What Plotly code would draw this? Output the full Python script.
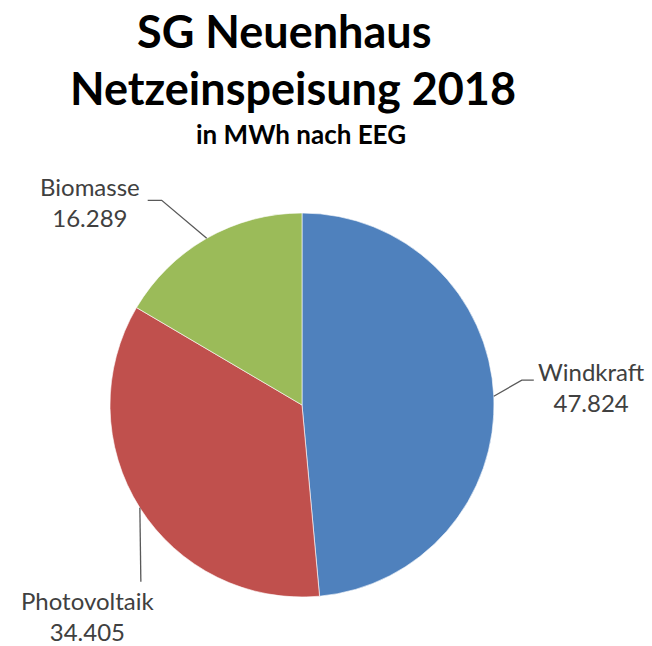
import math
import plotly.graph_objects as go

labels = ["Windkraft", "Photovoltaik", "Biomasse"]
values = [47.824, 34.405, 16.289]
value_text = ["47.824", "34.405", "16.289"]
colors = ["#4F81BD", "#C0504D", "#9BBB59"]

W, H = 652, 646
CX, CY, R = 302, 405, 192  # pie centre / radius in pixels


def px(x):
    return x / W


def py(y):
    return 1 - y / H


fig = go.Figure(go.Pie(
    labels=labels,
    values=values,
    sort=False,
    direction="clockwise",
    rotation=0,
    marker=dict(colors=colors, line=dict(color="white", width=0.6)),
    textinfo="none",
    hoverinfo="label+value",
    showlegend=False,
    domain=dict(x=[px(CX - R), px(CX + R)], y=[py(CY + R), py(CY - R)]),
))

# leader line styling per slice: (elbow dx, elbow dy, end dx, end dy, text x, text y, xanchor)
leader = {
    "Windkraft": (28, -16, 40, -16, 536, 387, "left"),
    "Photovoltaik": (1, 74, 1, 74, 88, 616, "center"),
    "Biomasse": (-45, -38, -59, -38, 90, 202, "center"),
}

total = sum(values)
cum = 0.0
shapes = []
annotations = []
for lab, v, t in zip(labels, values, value_text):
    mid = (cum + v / 2) / total * 2 * math.pi
    cum += v
    ex = CX + R * math.sin(mid)
    ey = CY - R * math.cos(mid)
    edx, edy, ndx, ndy, tx, ty, xa = leader[lab]
    path = f"M {px(ex)},{py(ey)} L {px(ex + edx)},{py(ey + edy)} L {px(ex + ndx)},{py(ey + ndy)}"
    shapes.append(dict(type="path", xref="paper", yref="paper", path=path,
                       line=dict(color="#595959", width=1.3)))
    annotations.append(dict(
        text=f"{lab}<br>{t}", x=px(tx), y=py(ty), xref="paper", yref="paper",
        xanchor=xa, yanchor="middle", showarrow=False, align="center",
        font=dict(family="Lato", size=24, color="#404040"),
    ))

title_font = "Lato"
annotations += [
    dict(text="<b>SG Neuenhaus</b>", x=px(284), y=py(31), xref="paper", yref="paper",
         xanchor="center", yanchor="middle", showarrow=False,
         font=dict(family=title_font, size=45, color="black")),
    dict(text="<b>Netzeinspeisung 2018</b>", x=px(293), y=py(88), xref="paper", yref="paper",
         xanchor="center", yanchor="middle", showarrow=False,
         font=dict(family=title_font, size=45, color="black")),
    dict(text="<b>in MWh nach EEG</b>", x=px(301), y=py(134), xref="paper", yref="paper",
         xanchor="center", yanchor="middle", showarrow=False,
         font=dict(family=title_font, size=26, color="black")),
]

fig.update_layout(
    width=W, height=H,
    margin=dict(l=0, r=0, t=0, b=0),
    paper_bgcolor="white", plot_bgcolor="white",
    shapes=shapes, annotations=annotations,
)

fig.write_html("out.html", config={"displayModeBar": False},
               post_script="document.body.style.margin='0';")
